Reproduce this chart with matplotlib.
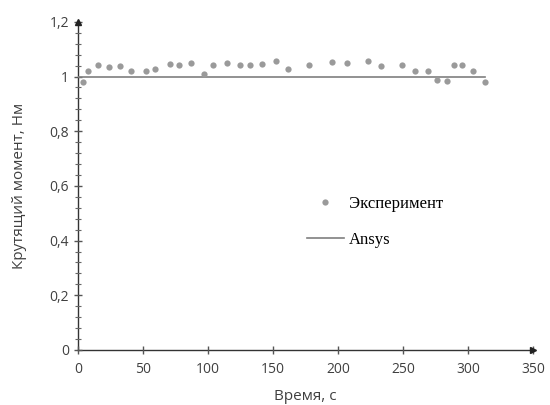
import matplotlib.pyplot as plt
from matplotlib.ticker import MultipleLocator, FuncFormatter

# experiment points (time, torque)
t_exp = [3.6, 8, 15.6, 24, 32.6, 40.8, 52.3, 59, 70.8, 78, 86.7, 96.9, 104,
         114.4, 124.6, 132.3, 141.8, 152.3, 161.3, 178, 195, 206.7, 222.8,
         232.8, 249, 259, 269.5, 276, 284, 289.5, 295.6, 303.6, 313]
m_exp = [0.979, 1.02, 1.044, 1.035, 1.037, 1.022, 1.022, 1.028, 1.045, 1.042,
         1.051, 1.01, 1.042, 1.049, 1.042, 1.042, 1.045, 1.056, 1.029, 1.042,
         1.055, 1.048, 1.056, 1.039, 1.042, 1.02, 1.02, 0.989, 0.982, 1.044,
         1.042, 1.022, 0.979]

# Ansys result
t_ansys = [0, 313]
m_ansys = [1.0, 1.0]

x_ticks = [0, 50, 100, 150, 200, 250, 300, 350]
y_ticks = [0, 0.2, 0.4, 0.6, 0.8, 1.0, 1.2]

fig = plt.figure(figsize=(5.5, 4.05), dpi=100)
ax = fig.add_axes([0.142, 0.136, 0.827, 0.81])

ax.plot(t_ansys, m_ansys, color='#7f7f7f', lw=1.2, label='Ansys', zorder=2)
ax.plot(t_exp, m_exp, 'o', color='#9a9a9a', ms=4.5, mec='none',
        label='Эксперимент', zorder=3)

ax.set_xlim(0, 350)
ax.set_ylim(0, 1.2)
ax.set_xticks(x_ticks)
ax.set_yticks(y_ticks)
ax.yaxis.set_minor_locator(MultipleLocator(0.04))

def comma(v, pos):
    s = ('%.1f' % v).rstrip('0').rstrip('.')
    return s.replace('.', ',')

ax.yaxis.set_major_formatter(FuncFormatter(comma))

for s in ['top', 'right']:
    ax.spines[s].set_visible(False)
for s in ['left', 'bottom']:
    ax.spines[s].set_color('#333333')
    ax.spines[s].set_linewidth(1.0)
    ax.spines[s].set_zorder(1)

ax.tick_params(which='major', direction='inout', length=6, width=1,
               color='#555555', labelsize=10, labelcolor='#404040')
ax.tick_params(which='minor', direction='inout', length=4, width=0.8,
               color='#666666')
ax.tick_params(axis='x', pad=6)
for lab in ax.get_xticklabels() + ax.get_yticklabels():
    lab.set_family('Open Sans')

# axis arrows
ax.plot(1, 0, '>', color='#222222', ms=5, transform=ax.transAxes, clip_on=False)
ax.plot(0, 1, '^', color='#222222', ms=5, transform=ax.transAxes, clip_on=False)

ax.set_xlabel('Время, с', fontsize=11, family='Open Sans', color='#404040',
              labelpad=8)
ax.set_ylabel('Крутящий момент, Нм', fontsize=11, family='Open Sans',
              color='#404040', labelpad=16)

h, l = ax.get_legend_handles_labels()
ax.legend(h[::-1], l[::-1], loc='center left', bbox_to_anchor=(0.47, 0.39),
          frameon=False, prop={'family': 'Liberation Serif', 'size': 12},
          handlelength=2.2, handletextpad=0.3, labelspacing=1.2)

fig.savefig('out.png', dpi=100)
